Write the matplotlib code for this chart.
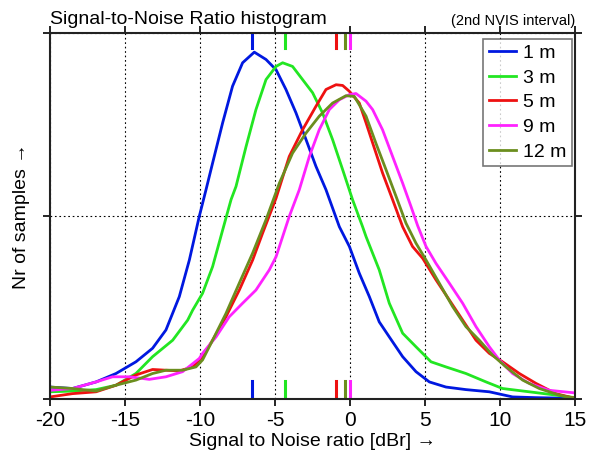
import matplotlib.pyplot as plt
import numpy as np

plt.rcParams['font.family'] = ['Liberation Sans', 'DejaVu Sans']
plt.rcParams['axes.unicode_minus'] = False

# curve samples (x in dBr, y relative count)
x_1m = [-20, -18.5, -16.93, -15.6, -14.27, -13.16, -12.27, -11.38, -10.71, -10.05, -9.6, -9.16,
        -8.49, -7.83, -7.16, -6.38, -5.6, -4.93, -4.27, -3.6, -2.93, -2.27, -1.6, -0.71, -0.04,
        0.62, 1.29, 1.95, 2.62, 3.51, 4.4, 5.29, 6.4, 7.73, 9.29, 10.84, 12.4, 15]
y_1m = [0.034, 0.03, 0.048, 0.071, 0.103, 0.14, 0.19, 0.281, 0.381, 0.5, 0.573, 0.646,
        0.756, 0.856, 0.92, 0.949, 0.929, 0.901, 0.847, 0.783, 0.71, 0.637, 0.573, 0.472, 0.418,
        0.345, 0.281, 0.212, 0.171, 0.117, 0.076, 0.048, 0.034, 0.027, 0.021, 0.007, 0.005, 0.003]

x_3m = [-20, -18.5, -16.93, -15.6, -14.27, -13.16, -11.82, -10.82, -10.49, -9.83, -9.16, -8.49,
        -7.93, -7.6, -6.93, -6.27, -5.6, -4.93, -4.49, -3.83, -3.16, -2.49, -1.83, -1.16, -0.49,
        0.17, 0.84, 1.07, 1.95, 2.62, 3.51, 4.4, 5.4, 6.4, 7.73, 9.07, 10.17, 11.95, 13.73, 15]
y_3m = [0.021, 0.023, 0.027, 0.039, 0.071, 0.117, 0.162, 0.217, 0.244, 0.29, 0.363, 0.463,
        0.546, 0.582, 0.691, 0.792, 0.874, 0.91, 0.92, 0.91, 0.874, 0.838, 0.783, 0.71, 0.628,
        0.546, 0.472, 0.445, 0.354, 0.263, 0.181, 0.144, 0.103, 0.089, 0.071, 0.048, 0.03, 0.021, 0.012, 0.005]

x_5m = [-20, -18.5, -16.93, -15.6, -14.27, -13.16, -12.27, -11.38, -10.49, -9.83, -9.16, -8.27,
        -7.38, -6.49, -5.83, -4.93, -4.05, -3.16, -2.27, -1.6, -0.93, -0.49, -0.04, 0.62, 1.07,
        1.51, 2.17, 2.84, 3.51, 4.17, 4.84, 5.73, 6.62, 7.51, 8.4, 9.29, 10.17, 11.29, 12.4, 13.73, 15]
y_5m = [0.007, 0.016, 0.021, 0.039, 0.067, 0.082, 0.08, 0.078, 0.089, 0.117, 0.162, 0.226,
        0.299, 0.381, 0.454, 0.55, 0.664, 0.737, 0.801, 0.847, 0.86, 0.858, 0.842, 0.81, 0.756,
        0.701, 0.619, 0.546, 0.472, 0.418, 0.386, 0.327, 0.272, 0.217, 0.162, 0.126, 0.103, 0.071, 0.044, 0.016, 0.003]

x_9m = [-20, -18.5, -16.93, -15.83, -14.71, -13.38, -12.27, -11.16, -10.05, -9.83, -8.93, -8.05,
        -7.16, -6.27, -5.38, -4.93, -4.49, -4.05, -3.38, -2.71, -2.05, -1.38, -0.71, -0.04, 0.4,
        1.07, 1.51, 2.17, 2.84, 3.51, 4.07, 4.51, 5.07, 5.73, 6.62, 7.51, 8.4, 9.29, 9.95, 10.84,
        11.95, 13.29, 15]
y_9m = [0.025, 0.03, 0.048, 0.062, 0.062, 0.055, 0.062, 0.076, 0.112, 0.126, 0.171, 0.226,
        0.263, 0.299, 0.354, 0.39, 0.445, 0.5, 0.573, 0.664, 0.737, 0.792, 0.819, 0.833, 0.836,
        0.815, 0.792, 0.737, 0.664, 0.591, 0.527, 0.475, 0.418, 0.372, 0.318, 0.263, 0.199, 0.144,
        0.108, 0.071, 0.044, 0.025, 0.018]

x_12m = [-20, -18.5, -16.93, -15.6, -14.27, -13.16, -12.27, -11.16, -10.27, -9.83, -9.16, -8.27,
         -7.38, -6.49, -5.6, -4.71, -3.83, -2.93, -2.05, -1.16, -0.27, 0.29, 0.84, 1.07, 1.73,
         2.4, 3.07, 3.73, 4.4, 5.07, 5.95, 6.84, 7.73, 8.62, 9.51, 10.4, 11.51, 12.62, 13.95, 15]
y_12m = [0.034, 0.03, 0.023, 0.039, 0.053, 0.071, 0.08, 0.08, 0.089, 0.108, 0.162, 0.235,
         0.318, 0.4, 0.491, 0.591, 0.673, 0.728, 0.774, 0.81, 0.83, 0.828, 0.79, 0.774, 0.7,
         0.628, 0.555, 0.482, 0.427, 0.381, 0.318, 0.254, 0.199, 0.162, 0.121, 0.089, 0.053, 0.03, 0.012, 0.003]

labels = ['1 m', '3 m', '5 m', '9 m', '12 m']
colors = ['#0018e0', '#22e622', '#ee1111', '#ff22ff', '#6b8e1e']
medians = [-6.55, -4.3, -0.95, 0.0, -0.35]

fig = plt.figure(figsize=(5.89, 4.55), dpi=100)
ax = fig.add_axes([0.0849, 0.1220, 0.8913, 0.8044])

series = [(x_1m, y_1m), (x_3m, y_3m), (x_5m, y_5m), (x_9m, y_9m), (x_12m, y_12m)]
for (xs, ys), lab, c in zip(series, labels, colors):
    ax.plot(xs, ys, color=c, lw=2, label=lab)

# median markers at top and bottom
for m, c in zip(medians, colors):
    ax.axvline(m, ymin=0.0, ymax=0.05, color=c, lw=2.2)
    ax.axvline(m, ymin=0.96, ymax=0.995, color=c, lw=2.2)

ax.set_xlim(-20, 15)
ax.set_ylim(0, 1)
ax.set_xticks(np.arange(-20, 16, 5))
ax.set_yticks([0, 0.5, 1])
ax.set_yticklabels([])
ax.grid(True, color='black', ls=(0, (1.5, 2.5)), lw=0.8)
ax.tick_params(axis='x', labelsize=15, length=5, width=1.2, top=True, direction='out')
ax.tick_params(axis='y', length=5, width=1.2, right=True, direction='out')
for s in ax.spines.values():
    s.set_linewidth(1.5)
    s.set_color('#222222')

ax.set_xlabel('Signal to Noise ratio [dBr] →', fontsize=14, labelpad=2)
ax.set_ylabel('Nr of samples →', fontsize=14, labelpad=6)
ax.text(0.0, 1.015, 'Signal-to-Noise Ratio histogram', transform=ax.transAxes,
        fontsize=14, ha='left', va='bottom')
ax.text(1.0, 1.015, '(2nd NVIS interval)', transform=ax.transAxes,
        fontsize=10.5, ha='right', va='bottom')

leg = ax.legend(loc='upper right', fontsize=14, frameon=True, fancybox=False,
                edgecolor='#555555', handlelength=1.4, handletextpad=0.35,
                labelspacing=0.36, borderpad=0.3, borderaxespad=0,
                bbox_to_anchor=(0.995, 0.986))
leg.get_frame().set_linewidth(1.2)

fig.savefig('out.png', dpi=100)
